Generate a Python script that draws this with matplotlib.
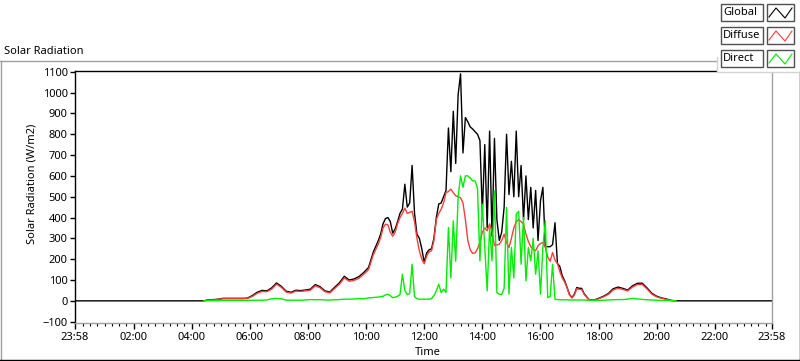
import numpy as np
import matplotlib.pyplot as plt
from matplotlib.lines import Line2D
from matplotlib.patches import Rectangle

plt.rcParams["font.family"] = ["Noto Sans", "DejaVu Sans"]
plt.rcParams["font.size"] = 8

W, H = 800, 361
X0 = -2 / 60        # 23:58 (day before)
X1 = 24 - 2 / 60    # 23:58

# sample times in minutes after midnight
mins_early = np.arange(265, 626, 10)   # 04:25 .. 10:25, 10 min
mins_mid = np.arange(630, 1051, 5)     # 10:30 .. 17:30, 5 min
mins_late = np.arange(1060, 1241, 10)  # 17:40 .. 20:40, 10 min

# W/m2
global_early = [0, 5, 6, 8, 12, 12, 12, 12, 12, 13, 25, 41, 50, 48, 62, 86, 70, 46, 41, 51,
                49, 52, 56, 78, 68, 48, 42, 65, 87, 118, 100, 105, 116, 136, 160, 235, 288]
diffuse_early = [0, 4, 5, 7, 10, 10, 10, 10, 10, 11, 21, 36, 45, 44, 56, 80, 65, 42, 37, 47,
                 45, 48, 51, 72, 63, 44, 38, 59, 80, 110, 94, 98, 108, 127, 150, 222, 272]
direct_early = [0, 1, 1, 1, 2, 2, 2, 2, 2, 2, 3, 3, 3, 4, 10, 11, 10, 3, 3, 3,
                3, 4, 6, 5, 6, 4, 4, 5, 6, 8, 8, 9, 11, 10, 14, 16, 18]

global_mid = [
    320, 370, 395, 400, 380, 325,                                   # 10:30
    345, 380, 420, 440, 560, 450, 470, 650, 420, 320, 300, 250,     # 11:00
    185, 230, 245, 250, 300, 400, 465, 470, 500, 530, 830, 620,     # 12:00
    910, 660, 990, 1090, 710, 880, 860, 835, 825, 812, 800, 770,    # 13:00
    420, 750, 350, 815, 310, 780, 390, 290, 330, 450, 800, 510,     # 14:00
    670, 500, 815, 500, 650, 390, 600, 390, 545, 350, 530, 290,     # 15:00
    480, 545, 260, 260, 260, 270, 375, 180, 165, 120, 96, 64,       # 16:00
    30, 16, 32, 64, 60, 60, 35,                                     # 17:00
]
diffuse_mid = [
    304, 350, 368, 365, 330, 310,
    330, 370, 400, 420, 445, 420, 425, 430, 380, 300, 240, 200,
    178, 215, 235, 240, 290, 390, 420, 440, 470, 520, 525, 536,
    520, 505, 500, 495, 470, 390, 290, 245, 228, 230, 250, 280,
    330, 350, 336, 370, 330, 265, 268, 272, 290, 320, 280, 256,
    300, 350, 380, 390, 380, 368, 320, 285, 260, 248, 240, 265,
    275, 280, 258, 210, 190, 232, 195, 180, 140, 110, 90, 62,
    28, 14, 28, 58, 55, 55, 32,
]
direct_mid = [
    20, 22, 28, 32, 25, 15,
    18, 22, 30, 128, 50, 30, 35, 176, 20, 10, 8, 8,
    8, 8, 8, 10, 25, 48, 80, 40, 56, 40, 352, 110,
    384, 190, 496, 600, 545, 600, 600, 590, 576, 576, 540, 192,
    464, 256, 48, 352, 192, 528, 40, 32, 30, 60, 448, 32,
    256, 110, 416, 430, 176, 400, 96, 256, 192, 300, 128, 240,
    32, 256, 384, 16, 20, 176, 8, 6, 5, 5, 5, 5,
    4, 4, 4, 4, 4, 4, 4,
]

global_late = [6, 3, 12, 22, 35, 58, 66, 60, 52, 72, 84, 85, 62, 36, 22, 14, 9, 2, 0]
diffuse_late = [5, 2, 10, 19, 31, 52, 60, 55, 48, 66, 78, 79, 57, 32, 19, 12, 7, 1, 0]
direct_late = [3, 2, 2, 3, 4, 5, 6, 6, 8, 12, 9, 7, 5, 4, 3, 2, 2, 1, 0]

x_labels = ["23:58", "02:00", "04:00", "06:00", "08:00", "10:00", "12:00",
            "14:00", "16:00", "18:00", "20:00", "22:00", "23:58"]
series_names = ["Global", "Diffuse", "Direct"]
series_colors = ["#000000", "#ff3c3c", "#00ee00"]


def fx(x):
    return x / W


def fy(y):
    return 1 - y / H


def hline(fig, x0, x1, y, color):
    fig.add_artist(Line2D([fx(x0), fx(x1)], [fy(y), fy(y)], color=color, lw=1, zorder=5))


def vline(fig, x, y0, y1, color):
    fig.add_artist(Line2D([fx(x), fx(x)], [fy(y0), fy(y1)], color=color, lw=1, zorder=5))


def main():
    hours = np.concatenate([mins_early, mins_mid, mins_late]) / 60
    glob = np.concatenate([global_early, global_mid, global_late])
    diff = np.concatenate([diffuse_early, diffuse_mid, diffuse_late])
    direct = np.concatenate([direct_early, direct_mid, direct_late])

    fig = plt.figure(figsize=(W / 100, H / 100), dpi=100)
    fig.patch.set_facecolor("white")
    ax = fig.add_axes([fx(74.5), fy(322.5), (772 - 74.5) / W, (322.5 - 70.5) / H])

    # global is zero through the night, shown across the whole axis
    ax.plot(np.r_[X0, hours, X1], np.r_[0, glob, 0], color=series_colors[0], lw=1)
    ax.plot(hours, diff, color=series_colors[1], lw=1)
    ax.plot(hours, direct, color=series_colors[2], lw=1)

    ax.set_xlim(X0, X1)
    ax.set_ylim(-104, 1106)
    ax.set_xticks([X0] + list(range(2, 24, 2)) + [X1])
    ax.set_xticklabels(x_labels)
    ax.set_xticks(np.arange(0.25, 23.9, 0.25), minor=True)
    ax.set_yticks(range(-100, 1101, 100))
    ax.tick_params(axis="x", which="major", direction="out", length=4, width=1, pad=3, labelsize=8)
    ax.tick_params(axis="x", which="minor", direction="out", length=2.5, width=0.8)
    ax.tick_params(axis="y", direction="out", length=3.5, width=1, pad=1.5, labelsize=8)

    ax.spines["left"].set_color("black")
    ax.spines["top"].set_color("black")
    ax.spines["right"].set_color("#a0a0a0")
    ax.spines["bottom"].set_color("#a0a0a0")
    for s in ax.spines.values():
        s.set_linewidth(1)

    ax.set_xlabel("Time", fontsize=8)
    ax.xaxis.set_label_coords(0.507, -0.121)
    ax.xaxis.label.set_va("center")
    ax.set_ylabel("Solar Radiation (W/m2)", fontsize=8)
    ax.yaxis.set_label_coords(-0.061, 0.552)
    ax.yaxis.label.set_va("center")

    fig.text(fx(4), fy(51), "Solar Radiation", ha="left", va="center", fontsize=8)

    # panel frame
    hline(fig, 0, 717, 61, "#a0a0a0")
    vline(fig, 0.5, 61, 360, "#a0a0a0")
    hline(fig, 0, 800, 359.5, "black")
    vline(fig, 799.5, 72, 360, "black")

    # legend panel
    fig.add_artist(Rectangle((fx(717), fy(72)), (800 - 717) / W, 72 / H,
                             facecolor="white", edgecolor="none", zorder=4))
    vline(fig, 717, 57, 72, "#d4d4d4")
    hline(fig, 717, 800, 72, "#d4d4d4")
    tops = [4, 27, 50]
    for name, color, top in zip(series_names, series_colors, tops):
        fig.add_artist(Rectangle((fx(720.5), fy(top + 17)), 42.5 / W, 17 / H,
                                 facecolor="white", edgecolor="#505050", lw=1, zorder=6))
        fig.text(fx(723), fy(top + 8.5), name, ha="left", va="center", fontsize=8, zorder=7)
        fig.add_artist(Rectangle((fx(766.5), fy(top + 17)), 27.5 / W, 17 / H,
                                 facecolor="white", edgecolor="#505050", lw=1, zorder=6))
        zx = [769, 776, 785, 792]
        zy = [top + 13, top + 4, top + 14, top + 4]
        fig.add_artist(Line2D([fx(v) for v in zx], [fy(v) for v in zy],
                              color=color, lw=0.8, zorder=7))

    fig.savefig("out.png", dpi=100)
    plt.close(fig)


if __name__ == "__main__":
    main()
